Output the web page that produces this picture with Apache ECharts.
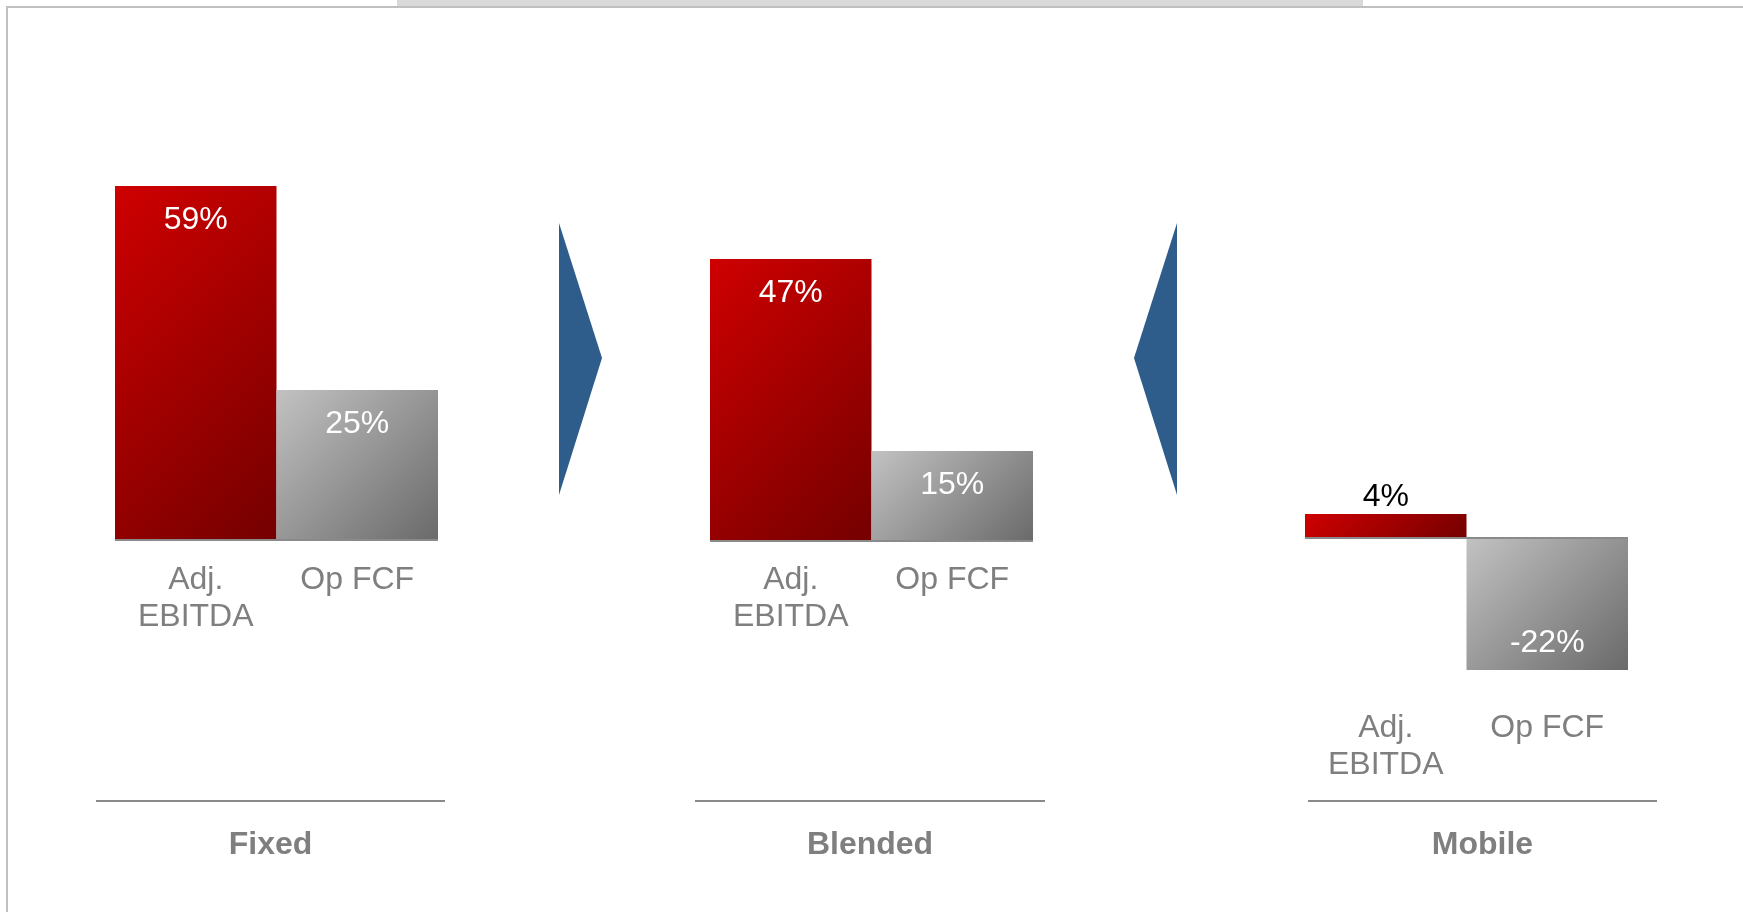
<!DOCTYPE html>
<html>
<head>
<meta charset="utf-8">
<script src="https://cdn.jsdelivr.net/npm/echarts/dist/echarts.min.js"></script>
<style>
  html, body { margin: 0; padding: 0; background: #ffffff; }
  #chart { width: 1743px; height: 912px; }
</style>
</head>
<body>
<div id="chart"></div>
<script>
// ---- data ----
const categories = ['Adj.\nEBITDA', 'Op FCF'];
const panelNames = ['Fixed', 'Blended', 'Mobile'];
const fixedValues = [59, 25];
const blendedValues = [47, 15];
const mobileValues = [4, -22];
const axisMin = [0, 0, -25];
const axisMax = [60, 60, 60];

// ---- layout / style ----
const FONT = '"Liberation Sans", Arial, sans-serif';
const pxPerUnit = 6;
const baselines = [540, 541, 538];
const labelMargins = [22, 21, 22];
const gridLefts = [115, 710, 1305];
const gridWidth = 323;
const dividerSpans = [[96, 445], [695, 1045], [1308, 1657]];
const dividerY = 801;
const titleY = 845;

const redStops = ['#cf0000', '#740000'];
const grayStops = ['#c2c2c2', '#6a6a6a'];
const barStops = [redStops, grayStops];

// 45-degree (pixel space) diagonal gradient across a bar's box
function diagGradient(stops, v) {
  const w = gridWidth / 2;
  const h = Math.max(1, Math.abs(v) * pxPerUnit);
  const x2 = (w + h) / (2 * w);
  const y2 = (w + h) / (2 * h);
  return new echarts.graphic.LinearGradient(0, 0, x2, y2, [
    { offset: 0, color: stops[0] },
    { offset: 1, color: stops[1] }
  ]);
}

function makeItem(v, i) {
  let label;
  if (v < 0) {
    label = { show: true, position: 'insideBottom', distance: 11, color: '#ffffff' };
  } else if (v < 10) {
    label = { show: true, position: 'top', distance: 1, color: '#000000' };
  } else {
    label = { show: true, position: 'insideTop', distance: 18, color: '#ffffff' };
  }
  return { value: v, itemStyle: { color: diagGradient(barStops[i], v) }, label: label };
}

const allValues = [fixedValues, blendedValues, mobileValues];

const grids = [], xAxes = [], yAxes = [], series = [];
allValues.forEach(function (vals, p) {
  const top = baselines[p] - axisMax[p] * pxPerUnit;
  const height = (axisMax[p] - axisMin[p]) * pxPerUnit;
  grids.push({ left: gridLefts[p], top: top, width: gridWidth, height: height });
  xAxes.push({
    type: 'category', gridIndex: p, data: categories,
    axisLine: { show: false, onZero: false }, axisTick: { show: false },
    axisLabel: { fontSize: 32, lineHeight: 37, color: '#7f7f7f', margin: labelMargins[p], fontFamily: FONT, interval: 0 }
  });
  yAxes.push({ type: 'value', gridIndex: p, min: axisMin[p], max: axisMax[p], show: false, splitLine: { show: false } });
  series.push({
    type: 'bar', xAxisIndex: p, yAxisIndex: p,
    barCategoryGap: '0%',
    data: vals.map(makeItem),
    label: { fontSize: 32, lineHeight: 32, fontFamily: FONT, formatter: function (d) { return d.value + '%'; } },
    markLine: {
      silent: true, symbol: 'none', animation: false,
      label: { show: false },
      lineStyle: { color: '#8a8a8a', width: 2, type: 'solid' },
      data: [{ yAxis: 0 }]
    }
  });
});

const graphics = [
  // frame
  { type: 'rect', shape: { x: 397, y: 0, width: 966, height: 7 }, style: { fill: '#d9d9d9' }, silent: true },
  { type: 'line', shape: { x1: 6, y1: 7, x2: 1743, y2: 7 }, style: { stroke: '#c0c0c0', lineWidth: 2 }, silent: true },
  { type: 'line', shape: { x1: 7, y1: 6, x2: 7, y2: 912 }, style: { stroke: '#c0c0c0', lineWidth: 2 }, silent: true },
  // arrows
  { type: 'polygon', shape: { points: [[559, 223], [602, 358], [559, 495]] }, style: { fill: '#2f5d8b' }, silent: true },
  { type: 'polygon', shape: { points: [[1177, 223], [1134, 358], [1177, 495]] }, style: { fill: '#2f5d8b' }, silent: true }
];
panelNames.forEach(function (name, p) {
  const s = dividerSpans[p];
  graphics.push({ type: 'line', shape: { x1: s[0], y1: dividerY, x2: s[1], y2: dividerY }, style: { stroke: '#8a8a8a', lineWidth: 2 }, silent: true });
  graphics.push({
    type: 'text', x: (s[0] + s[1]) / 2, y: titleY, silent: true,
    style: { text: name, fill: '#7f7f7f', font: 'bold 32px ' + FONT, align: 'center', verticalAlign: 'middle' }
  });
});

const chart = echarts.init(document.getElementById('chart'), null, { renderer: 'canvas' });
chart.setOption({
  animation: false,
  backgroundColor: '#ffffff',
  grid: grids,
  xAxis: xAxes,
  yAxis: yAxes,
  series: series,
  graphic: graphics
});
</script>
</body>
</html>
